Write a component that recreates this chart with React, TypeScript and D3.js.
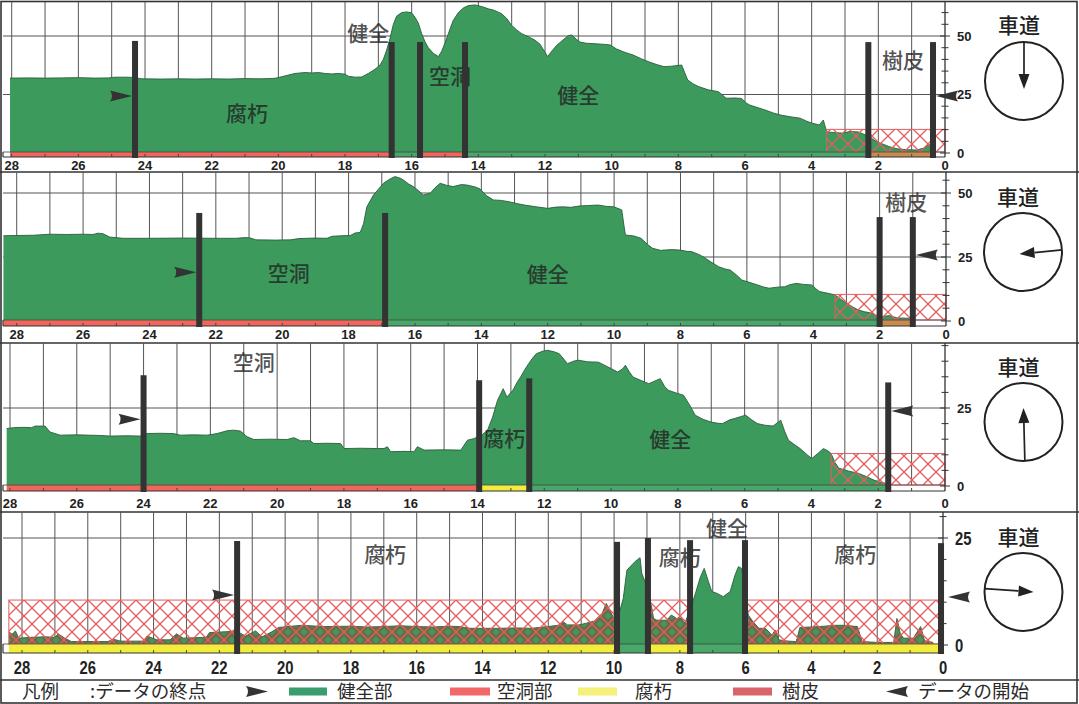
import React, { useEffect, useRef } from 'react';
import * as d3 from 'd3';

type Pt = [number, number];
type Strip = [number, number, string];

// depth (cm) -> resistance, one profile per drilling
const profile1: Pt[] = [
  [28.05, 32.0], [27.5, 32.1], [27.0, 32.0], [26.5, 32.1], [26.0, 32.2], [25.5, 32.0], [25.1, 32.1], [24.9, 32.4],
  [24.5, 32.4], [24.3, 32.2], [24.1, 31.7], [23.5, 31.6], [23.0, 31.7], [22.5, 31.6], [22.0, 31.7], [21.5, 31.6],
  [21.0, 31.8], [20.5, 31.7], [20.1, 31.9], [19.9, 32.6], [19.7, 33.3], [19.5, 34.0], [19.2, 34.4], [19.0, 34.2],
  [18.8, 34.4], [18.6, 34.0], [18.4, 33.8], [18.2, 34.0], [18.0, 33.7], [17.9, 32.8], [17.7, 32.4], [17.5, 32.5],
  [17.3, 34.0], [17.1, 35.8], [16.95, 37.6], [16.85, 40], [16.75, 44], [16.65, 49], [16.55, 55], [16.45, 58.5],
  [16.3, 60], [16.15, 60.3], [16.0, 59.9], [15.9, 58], [15.8, 55.5], [15.7, 51], [15.6, 47.5], [15.5, 45],
  [15.35, 42.6], [15.2, 41.2], [15.1, 43.5], [15.0, 47], [14.9, 51], [14.76, 56.5], [14.6, 60], [14.45, 62],
  [14.3, 63], [14.1, 63.3], [13.9, 62.6], [13.7, 61.6], [13.55, 61.1], [13.4, 60.2], [13.3, 59.5], [13.15, 57.5],
  [13.0, 54.5], [12.85, 52.6], [12.7, 51], [12.5, 49.7], [12.3, 48.2], [12.15, 46.5], [12.0, 43], [11.92, 41.2],
  [11.8, 43.5], [11.65, 46], [11.46, 48.3], [11.3, 50.2], [11.2, 50.4], [11.05, 48.5], [10.95, 47.4], [10.76, 46.9],
  [10.5, 46.7], [10.2, 46.4], [10.05, 46.2], [9.85, 44.4], [9.6, 43], [9.36, 41.9], [9.1, 40.2], [8.89, 39],
  [8.65, 37.8], [8.43, 36.9], [8.2, 37.1], [7.9, 37.6], [7.8, 34], [7.72, 31.2], [7.55, 29.5], [7.38, 28.3],
  [7.1, 27], [6.8, 26.2], [6.65, 24.5], [6.57, 23.4], [6.3, 23.5], [6.1, 23.3], [5.98, 21.5], [5.86, 20.5],
  [5.6, 19.3], [5.4, 18.4], [5.15, 17.1], [4.93, 16.2], [4.65, 15.5], [4.35, 14.9], [4.15, 13.6], [4.0, 12.8],
  [3.77, 12], [3.65, 14.1], [3.58, 10.5], [3.53, 9], [3.3, 8.7], [3.07, 8.5], [2.85, 9.2], [2.6, 9],
  [2.4, 7.8], [2.25, 6.8], [2.1, 5.2], [1.9, 4], [1.65, 2.6], [1.44, 1.8], [1.15, 1.4], [0.85, 1.3],
  [0.6, 2.2], [0.5, 3.5], [0.38, 3.5],
];

const profile2: Pt[] = [
  [28.4, 33.3], [28.0, 33.4], [27.5, 33.5], [27.0, 33.9], [26.5, 33.8], [26.0, 33.9], [25.7, 33.8], [25.55, 34.3],
  [25.4, 34.1], [25.2, 32.8], [24.8, 32.3], [24.0, 32.3], [23.0, 32.4], [22.0, 32.3], [21.4, 32.3], [21.1, 32.6],
  [20.95, 32.4], [20.8, 31.7], [20.2, 31.6], [19.75, 31.7], [19.5, 32.2], [19.0, 32.4], [18.65, 32.3], [18.5, 33.1],
  [18.2, 33.3], [17.95, 33.4], [17.8, 34.4], [17.65, 34.6], [17.55, 38], [17.45, 44.6], [17.25, 49.2], [17.1, 51.5],
  [16.95, 53.8], [16.75, 55.5], [16.6, 56.4], [16.45, 55.8], [16.35, 55.1], [16.2, 53.6], [16.05, 52.5], [15.9, 51],
  [15.75, 49.2], [15.54, 49.9], [15.4, 52], [15.24, 53.8], [15.05, 53], [14.85, 52.5], [14.6, 53.3], [14.43, 53.1],
  [14.2, 52.4], [14.04, 51.6], [13.85, 49], [13.64, 47.3], [13.4, 47.1], [13.17, 46.6], [12.9, 45.8], [12.7, 45.3],
  [12.35, 44.6], [12.0, 44], [11.75, 44.5], [11.53, 44.6], [11.3, 44.4], [11.06, 44.9], [10.8, 45.1], [10.48, 45.3],
  [10.25, 44.8], [10.01, 44.6], [9.85, 43.8], [9.77, 43.4], [9.7, 37], [9.66, 33.6], [9.4, 33.2], [9.19, 32.3],
  [9.0, 30], [8.84, 28.4], [8.6, 27.6], [8.49, 27.7], [8.25, 27.9], [8.02, 27.7], [7.8, 27.2], [7.67, 27.1],
  [7.45, 26], [7.32, 25.1], [7.1, 23.2], [6.85, 21.2], [6.65, 20.3], [6.5, 19.9], [6.3, 17.8], [6.15, 16],
  [5.9, 15], [5.68, 14.1], [5.5, 13.3], [5.33, 12.8], [5.1, 13.2], [4.86, 13.4], [4.7, 14.2], [4.51, 14.7],
  [4.3, 14.3], [4.05, 14.1], [3.9, 12.4], [3.81, 11.5], [3.55, 10.8], [3.34, 10.2], [3.15, 8.3], [2.99, 6.9],
  [2.8, 5.4], [2.64, 4.3], [2.45, 3.6], [2.29, 3.2], [2.1, 2.2], [1.94, 1.7], [1.7, 2.1], [1.47, 1.2],
  [1.2, 1.1], [1.0, 1.0],
];

const profile3: Pt[] = [
  [28.1, 18.4], [27.9, 18.7], [27.6, 18.8], [27.35, 18.7], [27.25, 19.2], [26.95, 19.2], [26.8, 17.3], [26.5, 16.3],
  [26.0, 16.4], [25.3, 16.2], [25.0, 16.0], [24.5, 16.1], [24.1, 16.0], [23.9, 16.8], [23.5, 16.9], [23.1, 16.8],
  [22.9, 16.3], [22.5, 16.4], [22.1, 16.3], [21.8, 16.8], [21.5, 17.7], [21.3, 17.9], [21.1, 17.6], [20.9, 15.8],
  [20.7, 14.9], [20.2, 15.0], [19.7, 14.9], [19.5, 15.5], [19.3, 14.5], [19.0, 14.5], [18.9, 13.6], [18.5, 13.7],
  [18.1, 13.6], [18.0, 12.0], [17.5, 12.1], [17.0, 12.0], [16.8, 12.0], [16.7, 12.6], [16.6, 11.0], [16.2, 11.1],
  [15.9, 11.0], [15.8, 12.6], [15.6, 11.5], [15.0, 11.6], [14.5, 11.5], [14.3, 14.7], [14.1, 15.2], [13.99, 15.8],
  [13.85, 16.5], [13.7, 17.9], [13.55, 22], [13.4, 27.5], [13.23, 31.2], [13.12, 28.5], [12.94, 30.7], [12.8, 33.5],
  [12.71, 34.9], [12.6, 37], [12.47, 39.2], [12.35, 41], [12.24, 42.4], [12.05, 43.2], [11.9, 43.5], [11.7, 43],
  [11.55, 42.4], [11.4, 40.5], [11.31, 39.2], [11.1, 40.1], [10.97, 40.3], [10.7, 39.8], [10.38, 39.7], [10.1, 38.2],
  [9.8, 36.5], [9.65, 37.6], [9.57, 38.7], [9.45, 36.5], [9.34, 34.9], [9.1, 33.8], [8.87, 32.8], [8.7, 33.6],
  [8.53, 34.4], [8.4, 32], [8.29, 30.7], [8.05, 29.8], [7.83, 29.1], [7.65, 26], [7.48, 22.7], [7.25, 21.4],
  [7.01, 20.5], [6.8, 20.1], [6.66, 20.0], [6.45, 21.2], [6.31, 21.6], [6.1, 22.3], [5.97, 22.7], [5.8, 21.3],
  [5.62, 20], [5.4, 19.5], [5.15, 19.2], [4.92, 21.1], [4.8, 17.5], [4.69, 14.7], [4.5, 13.2], [4.34, 12],
  [4.15, 10.2], [3.99, 8.8], [3.8, 10.5], [3.64, 12], [3.5, 11.2], [3.41, 10.4], [3.3, 7.6], [3.18, 5.7],
  [2.9, 4.8], [2.6, 4.1], [2.35, 3.0], [2.13, 1.9], [1.95, 1.3], [1.78, 0.9],
];

const profile4: Pt[] = [
  [28.4, 3.1], [28.3, 2.5], [28.2, 3.3], [28.1, 1.6], [27.7, 1.8], [27.3, 1.9], [27.0, 1.8], [26.9, 2.6],
  [26.7, 1.6], [26.5, 0.8], [26.0, 0.8], [25.4, 0.8], [25.2, 1.3], [25.0, 0.9], [24.3, 0.9], [24.2, 2.1],
  [23.9, 1.2], [23.5, 1.2], [23.3, 2.6], [23.1, 1.6], [22.4, 1.8], [22.3, 2.9], [21.8, 3.1], [21.5, 3.3],
  [21.2, 2.1], [20.9, 3.3], [20.7, 1.9], [20.4, 3.1], [20.2, 4.1], [19.5, 4.6], [18.8, 4.3], [18.0, 4.4],
  [17.5, 4.2], [17.0, 4.3], [16.5, 4.5], [16.0, 4.3], [15.5, 4.2], [15.0, 4.4], [14.7, 4.3], [14.38, 3.9],
  [13.5, 3.9], [13.0, 4.0], [12.5, 3.9], [12.02, 4.3], [11.7, 4.6], [11.54, 5.4], [11.42, 4.7], [11.07, 4.7],
  [10.84, 5.1], [10.6, 5.6], [10.36, 7.4], [10.24, 9.7], [10.13, 8.2], [10.01, 6.2], [9.86, 7], [9.72, 10.9],
  [9.61, 17.5], [9.46, 18.7], [9.36, 19.5], [9.21, 20.4], [9.16, 16.8], [9.06, 14.8], [8.95, 11], [8.86, 9.0],
  [8.8, 6.2], [8.7, 5.8], [8.4, 5.8], [8.26, 7.0], [8.1, 6.2], [7.95, 6.2], [7.85, 5.1], [7.7, 8],
  [7.54, 11.7], [7.39, 15.6], [7.26, 17.9], [7.13, 14.8], [7.03, 12.5], [6.88, 12.1], [6.68, 11.3], [6.47, 12.5],
  [6.32, 16.4], [6.22, 18.3], [6.12, 17.9], [6.0, 12], [5.92, 7.0], [5.77, 5.4], [5.6, 3.9], [5.4, 3.9],
  [5.2, 2.3], [5.1, 3.5], [4.99, 1.2], [4.7, 0.9], [4.46, 0.8], [4.35, 4.1], [4.0, 4.2], [3.6, 4.4],
  [3.3, 4.6], [3.0, 4.6], [2.6, 4.3], [2.46, 0.8], [2.0, 0.6], [1.5, 0.6], [1.4, 6.2], [1.3, 2.7],
  [1.2, 1.6], [0.9, 1.6], [0.68, 4.3], [0.56, 1.0], [0.3, 0.6],
];

// boundary markers (depth) and the value their top reaches
const bars1 = [24.3, 16.6, 15.75, 14.4, 2.3, 0.36];
const barTops1 = [47.9, 47.4, 47.4, 47.4, 47.4, 47.4];
const bars2 = [22.5, 16.9, 2.0, 1.0];
const barTops2 = [42.2, 42.2, 40.6, 40.6];
const bars3 = [24.0, 13.95, 12.45, 1.7];
const barTops3 = [35.5, 33.9, 34.5, 33.2];
const bars4 = [21.46, 9.91, 8.97, 7.69, 6.02, 0.06];
const barTops4 = [24.3, 24.1, 25.0, 24.5, 24.5, 23.8];

// judgement strip under each profile: [from depth, to depth, class]
const strips1: Strip[] = [[28.05, 16.6, 'cavity'], [16.6, 15.75, 'sound'], [15.75, 14.4, 'cavity'], [14.4, 2.3, 'sound'], [2.3, 0.36, 'bark']];
const strips2: Strip[] = [[28.4, 16.9, 'cavity'], [16.9, 2.0, 'sound'], [2.0, 1.0, 'bark']];
const strips3: Strip[] = [[28.1, 13.95, 'cavity'], [13.95, 12.45, 'decay'], [12.45, 1.7, 'sound']];
const strips4: Strip[] = [[28.4, 9.91, 'decay'], [9.91, 8.97, 'sound'], [8.97, 7.69, 'decay'], [7.69, 6.02, 'sound'], [6.02, 0.06, 'decay']];

// hatched zones [from, to] and their upper value
const hatch1: Pt[] = [[3.55, 0]];
const hatch2: Pt[] = [[3.34, 0]];
const hatch3: Pt[] = [[3.41, 0]];
const hatch4: Pt[] = [[28.4, 9.91], [8.97, 7.69], [6.02, 0.06]];
const hatchTops = [10.1, 10.4, 10.4, 10.5];

const labels1 = [
  { text: '健全', depth: 17.3, value: 51.3 }, { text: '腐朽', depth: 20.94, value: 17.1 },
  { text: '空洞', depth: 14.85, value: 32.9 }, { text: '健全', depth: 11.0, value: 24.8 },
  { text: '樹皮', depth: 1.26, value: 39.7 },
];
const labels2 = [
  { text: '空洞', depth: 19.8, value: 18.75 }, { text: '健全', depth: 12.0, value: 18.4 },
  { text: '樹皮', depth: 1.2, value: 46.5 },
];
const labels3 = [
  { text: '空洞', depth: 20.7, value: 39.6 }, { text: '腐朽', depth: 13.2, value: 15.5 },
  { text: '健全', depth: 8.23, value: 15.0 },
];
const labels4 = [
  { text: '腐朽', depth: 16.96, value: 21.3 }, { text: '腐朽', depth: 8.0, value: 20.6 },
  { text: '健全', depth: 6.57, value: 27.3 }, { text: '腐朽', depth: 2.67, value: 21.3 },
];

// data end (►) and data start (◄) markers [depth, value]
const endMarks: Pt[] = [[24.3, 24.4], [22.5, 19.0], [24.0, 21.4], [21.46, 11.7]];
const startMarks: Pt[] = [[0.36, 24.4], [1.0, 25.8], [1.7, 24.0], [0.0, 11.2]];

const yTicks1 = [0, 25, 50];
const yTicks2 = [0, 25, 50];
const yTicks3 = [0, 25];
const yTicks4 = [0, 25];
const xTickLabels = [28, 26, 24, 22, 20, 18, 16, 14, 12, 10, 8, 6, 4, 2, 0];

const legendTexts = ['凡例', ':データの終点', '健全部', '空洞部', '腐朽', '樹皮', 'データの開始'];

const W = 1079;
const H = 704;
const GREEN = '#3c9a5d';
const stripColors: Record<string, string> = { cavity: '#f0655c', decay: '#f2ec3c', sound: '#47a86a', bark: '#c98a4e' };
const CJK = '"Noto Sans CJK JP", "Noto Sans", sans-serif';
const NUM = '"Liberation Sans", Arial, sans-serif';

const panels = [
  { profile: profile1, bars: bars1, barTops: barTops1, strips: strips1, hatch: hatch1, labels: labels1, yTicks: yTicks1,
    top: 2, bottom: 172, x28: 11.7, x0: 945, y0: 153, yRef: 50, yRefPx: 36, stripTop: 152, stripBottom: 157,
    labelY: 165, cx: 1024, cy: 81, roadY: 25, arrowAngle: -90, tip: [0, 8], narrow: false },
  { profile: profile2, bars: bars2, barTops: barTops2, strips: strips2, hatch: hatch2, labels: labels2, yTicks: yTicks2,
    top: 172, bottom: 343, x28: 16.7, x0: 946, y0: 321, yRef: 50, yRefPx: 193, stripTop: 320, stripBottom: 326,
    labelY: 334, cx: 1023, cy: 252, roadY: 197, arrowAngle: -3, tip: [-3.5, 2], narrow: false },
  { profile: profile3, bars: bars3, barTops: barTops3, strips: strips3, hatch: hatch3, labels: labels3, yTicks: yTicks3,
    top: 343, bottom: 512, x28: 10, x0: 945, y0: 486, yRef: 25, yRefPx: 408, stripTop: 485, stripBottom: 491,
    labelY: 503, cx: 1023.5, cy: 422, roadY: 367, arrowAngle: 88, tip: [0, -14], narrow: false },
  { profile: profile4, bars: bars4, barTops: barTops4, strips: strips4, hatch: hatch4, labels: labels4, yTicks: yTicks4,
    top: 512, bottom: 680, x28: 22, x0: 943, y0: 645, yRef: 25, yRefPx: 538, stripTop: 644, stripBottom: 653,
    labelY: 667, cx: 1023.5, cy: 592, roadY: 537, arrowAngle: 185, tip: [10, 0], narrow: true },
];

const App: React.FC = () => {
  const svgRef = useRef<SVGSVGElement>(null);

  useEffect(() => {
    if (!svgRef.current) return;
    const svg = d3.select(svgRef.current);
    svg.selectAll('*').remove();

    svg.append('rect').attr('width', W).attr('height', H).attr('fill', '#fff');

    const defs = svg.append('defs');
    const hatchD = 'M0,0 L16,16 M16,0 L0,16 M-2,2 L2,-2 M14,18 L18,14 M-2,14 L2,18 M14,-2 L18,2';
    defs.append('pattern').attr('id', 'hatchRed').attr('patternUnits', 'userSpaceOnUse')
      .attr('width', 16).attr('height', 16)
      .append('path').attr('d', hatchD).attr('fill', 'none').attr('stroke', '#e25e5e').attr('stroke-width', 1.3);
    defs.append('pattern').attr('id', 'hatchDark').attr('patternUnits', 'userSpaceOnUse')
      .attr('width', 16).attr('height', 16)
      .append('path').attr('d', hatchD).attr('fill', 'none').attr('stroke', '#6e6a46').attr('stroke-width', 6);

    // text helper for the numeric labels; panel 4 uses a condensed face
    const numText = (g: any, x: number, y: number, s: string, anchor: string, narrow: boolean) => {
      if (narrow) {
        g.append('text')
          .attr('transform', `translate(${x},${y}) scale(0.78,1)`)
          .attr('text-anchor', anchor).attr('dy', '0.36em')
          .style('font-family', NUM).style('font-weight', 'bold').style('font-size', '19px')
          .attr('fill', '#222').text(s);
      } else {
        g.append('text')
          .attr('x', x).attr('y', y)
          .attr('text-anchor', anchor).attr('dy', '0.36em')
          .style('font-family', NUM).style('font-weight', 'bold').style('font-size', '13px')
          .attr('fill', '#222').text(s);
      }
    };

    const marker = (g: any, tipX: number, y: number, dir: number) => {
      // dir = 1 points right (►), -1 points left (◄)
      const b = tipX - dir * 22;
      g.append('path')
        .attr('d', `M${tipX},${y} L${b},${y - 5.5} Q${tipX - dir * 18},${y} ${b},${y + 5.5} Z`)
        .attr('fill', '#333');
    };

    panels.forEach((p, i) => {
      const x = d3.scaleLinear().domain([28, 0]).range([p.x28, p.x0]);
      const y = d3.scaleLinear().domain([0, p.yRef]).range([p.y0, p.yRefPx]);
      const g = svg.append('g');
      const vMax = y.invert(p.top);
      const leftX = 3;

      // vertical grid
      d3.range(1, 29).forEach(d => {
        g.append('line')
          .attr('x1', x(d)).attr('x2', x(d)).attr('y1', p.top).attr('y2', p.stripTop)
          .attr('stroke', '#555').attr('stroke-width', 1);
      });
      // horizontal grid
      p.yTicks.filter(v => v > 0).forEach(v => {
        g.append('line')
          .attr('x1', leftX).attr('x2', x(0)).attr('y1', y(v)).attr('y2', y(v))
          .attr('stroke', '#555').attr('stroke-width', 1);
      });

      // profile
      const area = d3.area<Pt>().x(d => x(d[0])).y0(p.stripTop + 1).y1(d => y(d[1]));
      const line = d3.line<Pt>().x(d => x(d[0])).y(d => y(d[1]));
      g.append('path').datum(p.profile).attr('d', area).attr('fill', GREEN);
      g.append('path').datum(p.profile).attr('d', line)
        .attr('fill', 'none').attr('stroke', '#2b5e3c').attr('stroke-width', 0.9);

      // hatched zones
      const hTop = y(hatchTops[i]);
      if (p.narrow) {
        const clip = defs.append('clipPath').attr('id', `hclip${i}`);
        p.hatch.forEach(([a, b]) => {
          clip.append('rect').attr('x', x(a)).attr('width', x(b) - x(a))
            .attr('y', hTop).attr('height', p.stripTop + 1 - hTop);
        });
        g.append('path').datum(p.profile).attr('d', area)
          .attr('fill', 'url(#hatchDark)').attr('clip-path', `url(#hclip${i})`);
      }
      p.hatch.forEach(([a, b]) => {
        g.append('rect')
          .attr('x', x(a)).attr('width', x(b) - x(a))
          .attr('y', hTop).attr('height', p.stripTop - hTop)
          .attr('fill', 'url(#hatchRed)').attr('stroke', '#e25e5e').attr('stroke-width', 1);
      });

      // judgement strip
      p.strips.forEach(([a, b, c]) => {
        g.append('rect')
          .attr('x', x(a)).attr('width', x(b) - x(a))
          .attr('y', p.stripTop).attr('height', p.stripBottom - p.stripTop)
          .attr('fill', stripColors[c]);
      });
      g.append('line').attr('x1', leftX).attr('x2', x(0)).attr('y1', p.stripTop).attr('y2', p.stripTop)
        .attr('stroke', '#444').attr('stroke-width', 0.8);
      g.append('line').attr('x1', leftX).attr('x2', x(0)).attr('y1', p.stripBottom).attr('y2', p.stripBottom)
        .attr('stroke', '#333').attr('stroke-width', 1.2);
      g.append('line').attr('x1', leftX).attr('x2', leftX).attr('y1', p.stripTop).attr('y2', p.stripBottom)
        .attr('stroke', '#333').attr('stroke-width', 1.2);
      d3.range(1, 29).forEach(d => {
        g.append('line').attr('x1', x(d)).attr('x2', x(d))
          .attr('y1', p.stripBottom - 3).attr('y2', p.stripBottom)
          .attr('stroke', '#444').attr('stroke-width', 1);
      });

      // right axis
      g.append('line').attr('x1', x(0)).attr('x2', x(0)).attr('y1', p.top).attr('y2', p.stripBottom)
        .attr('stroke', '#333').attr('stroke-width', 1.3);
      d3.range(0, vMax, 5).forEach(v => {
        const major = p.yTicks.includes(v);
        g.append('line')
          .attr('x1', x(0) - (major ? 5 : 3.5)).attr('x2', x(0) + (major ? 5 : 3.5))
          .attr('y1', y(v)).attr('y2', y(v))
          .attr('stroke', '#333').attr('stroke-width', 1);
      });
      p.yTicks.forEach(v => numText(g, x(0) + 12, y(v), String(v), 'start', p.narrow));

      // depth labels
      xTickLabels.forEach(d => numText(g, x(d), p.labelY, String(d), 'middle', p.narrow));

      // region names
      p.labels.forEach(l => {
        g.append('text')
          .attr('x', x(l.depth)).attr('y', y(l.value)).attr('dy', '0.38em')
          .attr('text-anchor', 'middle')
          .style('font-family', CJK).style('font-size', '21px').style('font-weight', 500)
          .attr('fill', '#222').attr('fill-opacity', 0.8)
          .text(l.text);
      });

      // boundary bars
      p.bars.forEach((d, j) => {
        g.append('rect')
          .attr('x', x(d) - 3).attr('width', 6)
          .attr('y', y(p.barTops[j])).attr('height', p.stripBottom + 1 - y(p.barTops[j]))
          .attr('fill', '#333');
      });

      // data end / start markers
      const [ed, ev] = endMarks[i];
      marker(g, x(ed) - 3, y(ev), 1);
      const [sd, sv] = startMarks[i];
      marker(g, x(sd) + (p.narrow ? 5 : 3), y(sv), -1);

      // drilling direction compass
      const r = 39;
      g.append('text')
        .attr('x', p.cx - 5).attr('y', p.roadY).attr('dy', '0.38em').attr('text-anchor', 'middle')
        .style('font-family', CJK).style('font-size', '21px').style('font-weight', 500)
        .attr('fill', '#222').text('車道');
      g.append('circle').attr('cx', p.cx).attr('cy', p.cy).attr('r', r)
        .attr('fill', 'none').attr('stroke', '#222').attr('stroke-width', 2);
      const ang = (p.arrowAngle * Math.PI) / 180;
      const sx = p.cx + r * Math.cos(ang);
      const sy = p.cy + r * Math.sin(ang);
      const tx = p.cx + p.tip[0];
      const ty = p.cy + p.tip[1];
      const len = Math.hypot(tx - sx, ty - sy);
      const ux = (tx - sx) / len;
      const uy = (ty - sy) / len;
      const hl = 15;
      const hw = 5.5;
      g.append('line').attr('x1', sx).attr('y1', sy).attr('x2', tx - ux * hl).attr('y2', ty - uy * hl)
        .attr('stroke', '#222').attr('stroke-width', 1.7);
      g.append('path')
        .attr('d', `M${tx},${ty} L${tx - ux * hl - uy * hw},${ty - uy * hl + ux * hw} L${tx - ux * hl + uy * hw},${ty - uy * hl - ux * hw} Z`)
        .attr('fill', '#222');

      // panel separator
      g.append('line').attr('x1', 0).attr('x2', W).attr('y1', p.bottom).attr('y2', p.bottom)
        .attr('stroke', '#333').attr('stroke-width', 1.6);
    });

    // legend row
    const lg = svg.append('g');
    const ly = 691.5;
    const legText = (x: number, s: string) => {
      lg.append('text').attr('x', x).attr('y', ly).attr('dy', '0.36em')
        .style('font-family', CJK).style('font-size', '18.5px')
        .attr('fill', '#2a2a2a').text(s);
    };
    legText(22, legendTexts[0]);
    legText(90, legendTexts[1]);
    marker(lg, 268, ly, 1);
    lg.append('rect').attr('x', 289).attr('y', ly - 4).attr('width', 38).attr('height', 8).attr('fill', '#3a9e6c');
    legText(337, legendTexts[2]);
    lg.append('rect').attr('x', 450).attr('y', ly - 4).attr('width', 40).attr('height', 8).attr('fill', '#f26868');
    legText(497, legendTexts[3]);
    lg.append('rect').attr('x', 578).attr('y', ly - 4).attr('width', 39).attr('height', 8).attr('fill', '#f4f07a');
    legText(635, legendTexts[4]);
    lg.append('rect').attr('x', 733).attr('y', ly - 4).attr('width', 39).attr('height', 8).attr('fill', '#d8646a');
    legText(782, legendTexts[5]);
    marker(lg, 886, ly, -1);
    legText(918, legendTexts[6]);

    // outer frame
    svg.append('rect').attr('x', 1).attr('y', 1.5).attr('width', W - 3).attr('height', H - 2.5)
      .attr('fill', 'none').attr('stroke', '#333').attr('stroke-width', 1.6);
  }, []);

  return (
    <svg
      ref={svgRef}
      width={W}
      height={H}
      style={{ position: 'absolute', left: 0, top: 0, display: 'block' }}
    />
  );
};

export default App;
